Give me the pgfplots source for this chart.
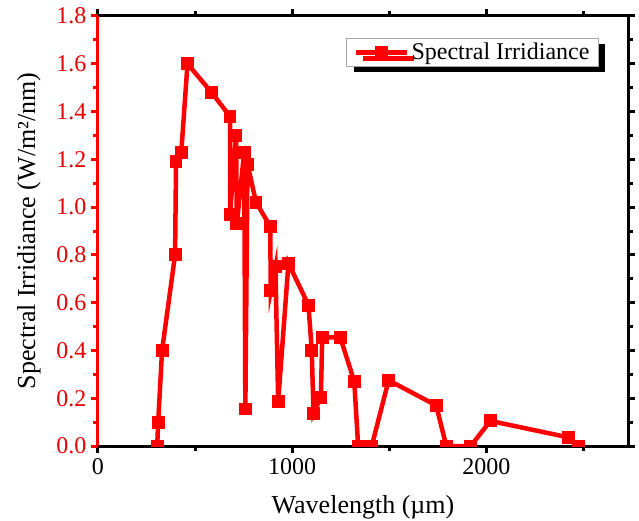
\documentclass[border=0pt]{standalone}
\usepackage{pgfplots}
\pgfplotsset{compat=1.18}
\usepackage{fontspec}
\setmainfont{Liberation Serif}
\usetikzlibrary{shadows}
\begin{document}
\begin{tikzpicture}
\pgfplotsset{
  common/.style={
    width=530pt, height=430pt, scale only axis,
    xmin=0, xmax=2730, ymin=0, ymax=1.8,
    xtick={0,1000,2000}, minor xtick={500,1500,2500},
    ytick={0,0.2,...,1.8}, minor ytick={0.1,0.3,...,1.7},
    tick align=outside,
    major tick length=7pt, minor tick length=5pt,
    every tick/.style={line width=3pt},
    every minor tick/.style={line width=3pt},
    /pgf/number format/assume math mode=true,
    /pgf/number format/1000 sep={},
    tick label style={font=\fontsize{24}{28}\selectfont},
    label style={font=\fontsize{26}{30}\selectfont},
  }
}
\begin{axis}[common,
  axis line style={line width=3pt, black},
  xtick pos=both, ytick pos=right, yticklabel pos=left,
  xticklabel style={black, yshift=-2pt},
  yticklabel style={red!90!black, xshift=-1pt, /pgf/number format/.cd, fixed, fixed zerofill, precision=1},
  xlabel={Wavelength (µm)},
  ylabel={Spectral Irridiance (W/m²/nm)},
  xlabel style={yshift=-14pt},
  ylabel style={yshift=9pt},
  clip marker paths=true,
  legend style={at={(0.945,0.949)}, anchor=north east, draw=gray!70, line width=0.8pt, fill=white,
    drop shadow={shadow xshift=7pt, shadow yshift=-6pt, fill=black, opacity=1},
    font=\fontsize{24}{28}\selectfont, inner xsep=7pt, inner ysep=3pt},
  legend image code/.code={\draw[mark repeat=2,mark phase=2,#1] plot coordinates {(0cm,0cm) (0.9cm,0cm) (1.8cm,0cm)};},
]
\addplot[red, line width=4.5pt, mark=square*, mark size=4.2pt, mark options={solid}] coordinates {
(305,0) (310,0.10) (330,0.40) (397,0.80) (402,1.19) (429,1.23) (461,1.60)
(585,1.48) (680,1.38) (680,0.97) (711,1.30) (715,0.93) (753,1.23) (759,0.155)
(770,1.18) (814,1.02) (887,0.92) (890,0.65) (914,0.75) (928,0.185) (981,0.765)
(1084,0.59) (1101,0.40) (1110,0.137) (1148,0.204) (1155,0.455) (1248,0.455)
(1320,0.27) (1340,0) (1410,0) (1497,0.275) (1742,0.17) (1794,0) (1920,0)
(2021,0.105) (2424,0.036) (2476,0)
};
\addlegendentry{Spectral Irridiance}
\end{axis}
\begin{axis}[common,
  axis x line=none, axis y line*=left,
  y axis line style={line width=3pt, red},
  ytick style={red}, yticklabels={},
  every tick/.style={line width=3pt, red},
  every minor tick/.style={line width=3pt, red},
]
\end{axis}
\pgfresetboundingbox
\path[use as bounding box] (-98pt,-74pt) rectangle (541pt,446pt);
\end{tikzpicture}
\end{document}
